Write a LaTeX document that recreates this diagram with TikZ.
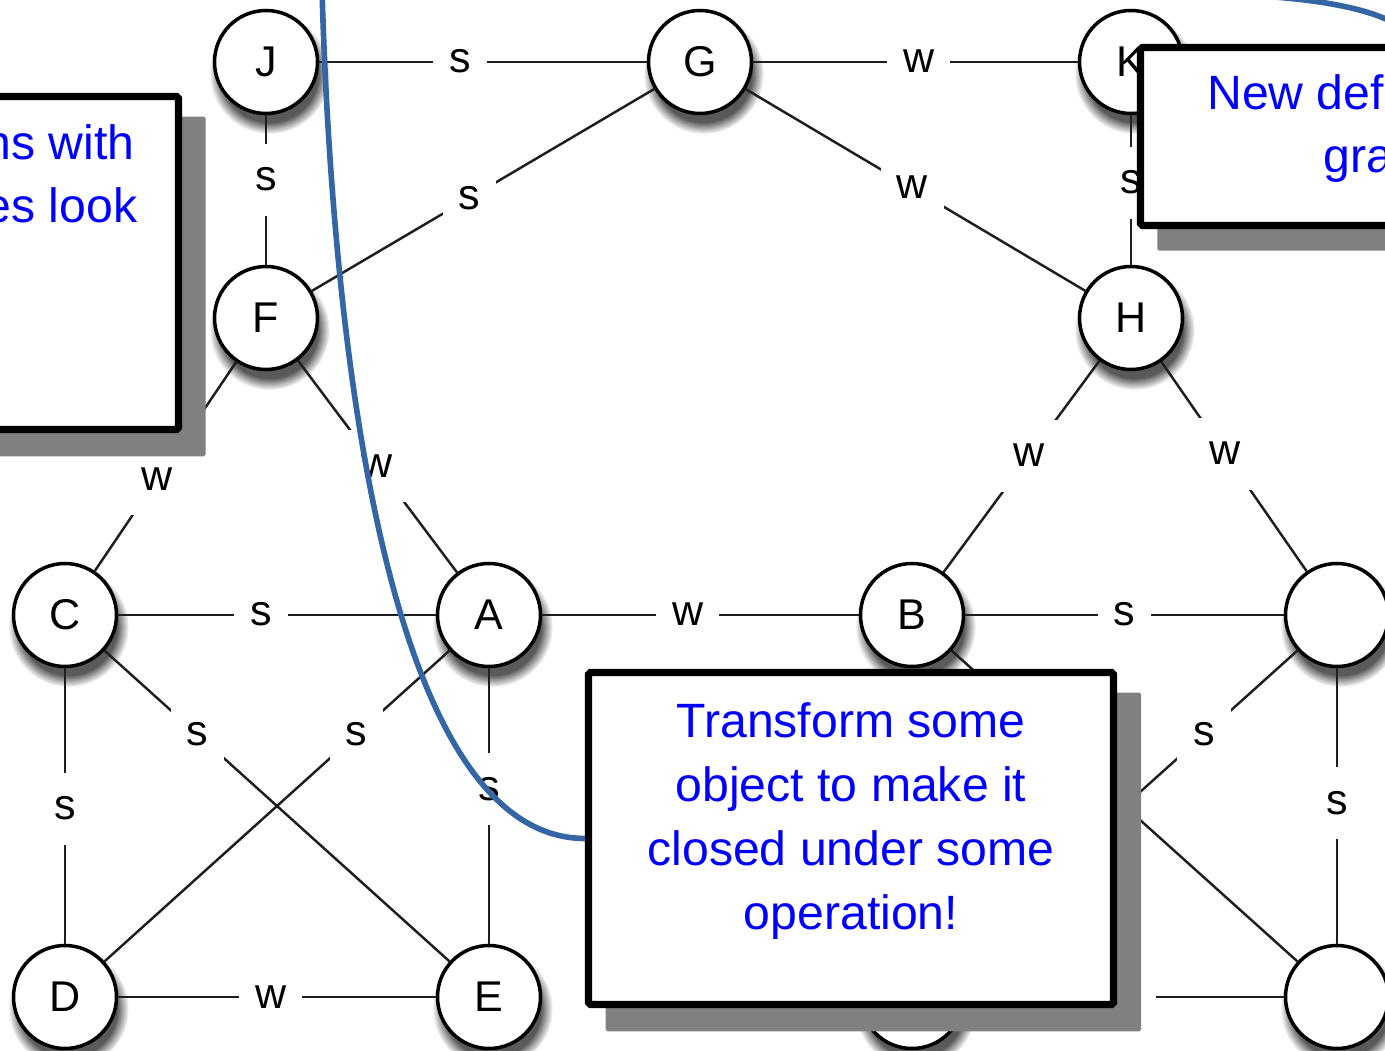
\documentclass[tikz,border=0pt]{standalone}
\usepackage{fontspec}
\setmainfont{Liberation Sans}
\usepackage{xcolor}
\definecolor{calloutblue}{RGB}{0,0,255}
\definecolor{curveblue}{HTML}{3465A4}
\definecolor{edgedark}{HTML}{1E1E1E}
\definecolor{shadowgray}{HTML}{808080}
\usepackage{tikz}
\usetikzlibrary{shadows,fadings}

\newcommand{\vertexfont}{\fontsize{24.5}{29}\selectfont}
\newcommand{\calloutfont}{\fontsize{27.4}{36.4}\selectfont}

\begin{document}
\begin{tikzpicture}[
    vertex/.style={circle, draw=black, line width=2pt, fill=white, minimum size=2.06cm, inner sep=0pt, font=\vertexfont,
      general shadow={shadow scale=1.17, shadow xshift=0.06cm, shadow yshift=-0.2cm, fill=black, opacity=0.65,
        path fading={circle with fuzzy edge 20 percent}}},
    link/.style={draw=edgedark, line width=1.4pt},
    elabel/.style={fill=white, inner xsep=0.32cm, inner ysep=0.32cm, text height=0.62cm, text depth=0.18cm, font=\vertexfont},
    callout/.style={rectangle, draw=black, line width=4pt, fill=white, rounded corners=1pt, inner sep=0pt,
      general shadow={fill=shadowgray, shadow xshift=0.44cm, shadow yshift=-0.46cm, shadow scale=1.02}},
    callouttext/.style={text=calloutblue, font=\calloutfont, inner sep=0pt},
    callline/.style={draw=curveblue, line width=3.2pt}
  ]
  \path[use as bounding box, clip] (0,0) rectangle (27.7,21);
  \fill[white] (0,0) rectangle (27.7,21);

  % vertices
  \node[vertex] (J) at (5.32,19.76) {J};
  \node[vertex] (G) at (14.00,19.76) {G};
  \node[vertex] (K) at (22.62,19.76) {K};
  \node[vertex] (F) at (5.32,14.64) {F};
  \node[vertex] (H) at (22.62,14.64) {H};
  \node[vertex] (C) at (1.30,8.70) {C};
  \node[vertex] (A) at (9.78,8.70) {A};
  \node[vertex] (B) at (18.24,8.70) {B};
  \node[vertex] (P) at (26.74,8.70) {};
  \node[vertex] (D) at (1.30,1.06) {D};
  \node[vertex] (E) at (9.78,1.06) {E};
  \node[vertex] (Q) at (18.24,1.06) {};
  \node[vertex] (R) at (26.74,1.06) {};

  % strong / weak ties
  \draw[link] (J) -- node[elabel, pos=.43] {s} (G);
  \draw[link] (G) -- node[elabel, pos=.51] {w} (K);
  \draw[link] (J) -- node[elabel, pos=.43] {s} (F);
  \draw[link] (G) -- node[elabel, pos=.54] {s} (F);
  \draw[link] (G) -- node[elabel, pos=.49] {w} (H);
  \draw[link] (K) -- node[elabel, pos=.45] {s} (H);
  \draw[link] (F) -- node[elabel, pos=.56] {w} (C);
  \draw[link] (F) -- node[elabel, pos=.5] {w} (A);
  \draw[link] (H) -- node[elabel, pos=.45] {w} (B);
  \draw[link] (H) -- node[elabel, pos=.44] {w} (P);
  \draw[link] (C) -- node[elabel, pos=.45] {s} (A);
  \draw[link] (A) -- node[elabel, pos=.46] {w} (B);
  \draw[link] (B) -- node[elabel, pos=.5] {s} (P);
  \draw[link] (C) -- node[elabel, pos=.51] {s} (D);
  \draw[link] (C) -- node[elabel, pos=.27] {s} (E);
  \draw[link] (A) -- node[elabel, pos=.27] {s} (D);
  \draw[link] (A) -- node[elabel, pos=.44] {s} (E);
  \draw[link] (D) -- node[elabel, pos=.48] {w} (E);
  \draw[link] (B) -- (R);
  \draw[link] (P) -- node[elabel, pos=.27] {s} (Q);
  \draw[link] (P) -- node[elabel, pos=.49] {s} (R);
  \draw[link] (Q) -- node[elabel, pos=.5] {w} (R);

  % callouts
  \node[callout, minimum width=9.57cm, minimum height=6.66cm] (box1) at (-1.215,15.74) {};
  \node[callouttext, anchor=base east] (box1a) at (2.70,17.80) {ns with};
  \node[callouttext, anchor=base east] (box1b) at (2.75,16.54) {es look};

  \node[callout, minimum width=11.19cm, minimum height=3.56cm] (box2) at (28.405,18.27) {};
  \node[callouttext, anchor=base west] (box2a) at (24.14,18.80) {New def};
  \node[callouttext, anchor=base west] (box2b) at (26.46,17.54) {gra};

  \node[callout, minimum width=10.5cm, minimum height=6.64cm] (box3) at (17.02,4.23) {};
  \node[callouttext, align=center] (box3a) at (17.02,4.58) {Transform some\\object to make it\\closed under some\\operation!};

  % pointer curves
  \coordinate (top3) at (6.44,21.2);
  \coordinate (top2) at (25.2,21.08);
  \draw[callline] (box3.west) .. controls (7.75,4.24) and (6.65,14.0) .. (top3);
  \draw[callline] (box2.north) .. controls (28.1,20.55) and (27.3,20.95) .. (top2);
\end{tikzpicture}
\end{document}
